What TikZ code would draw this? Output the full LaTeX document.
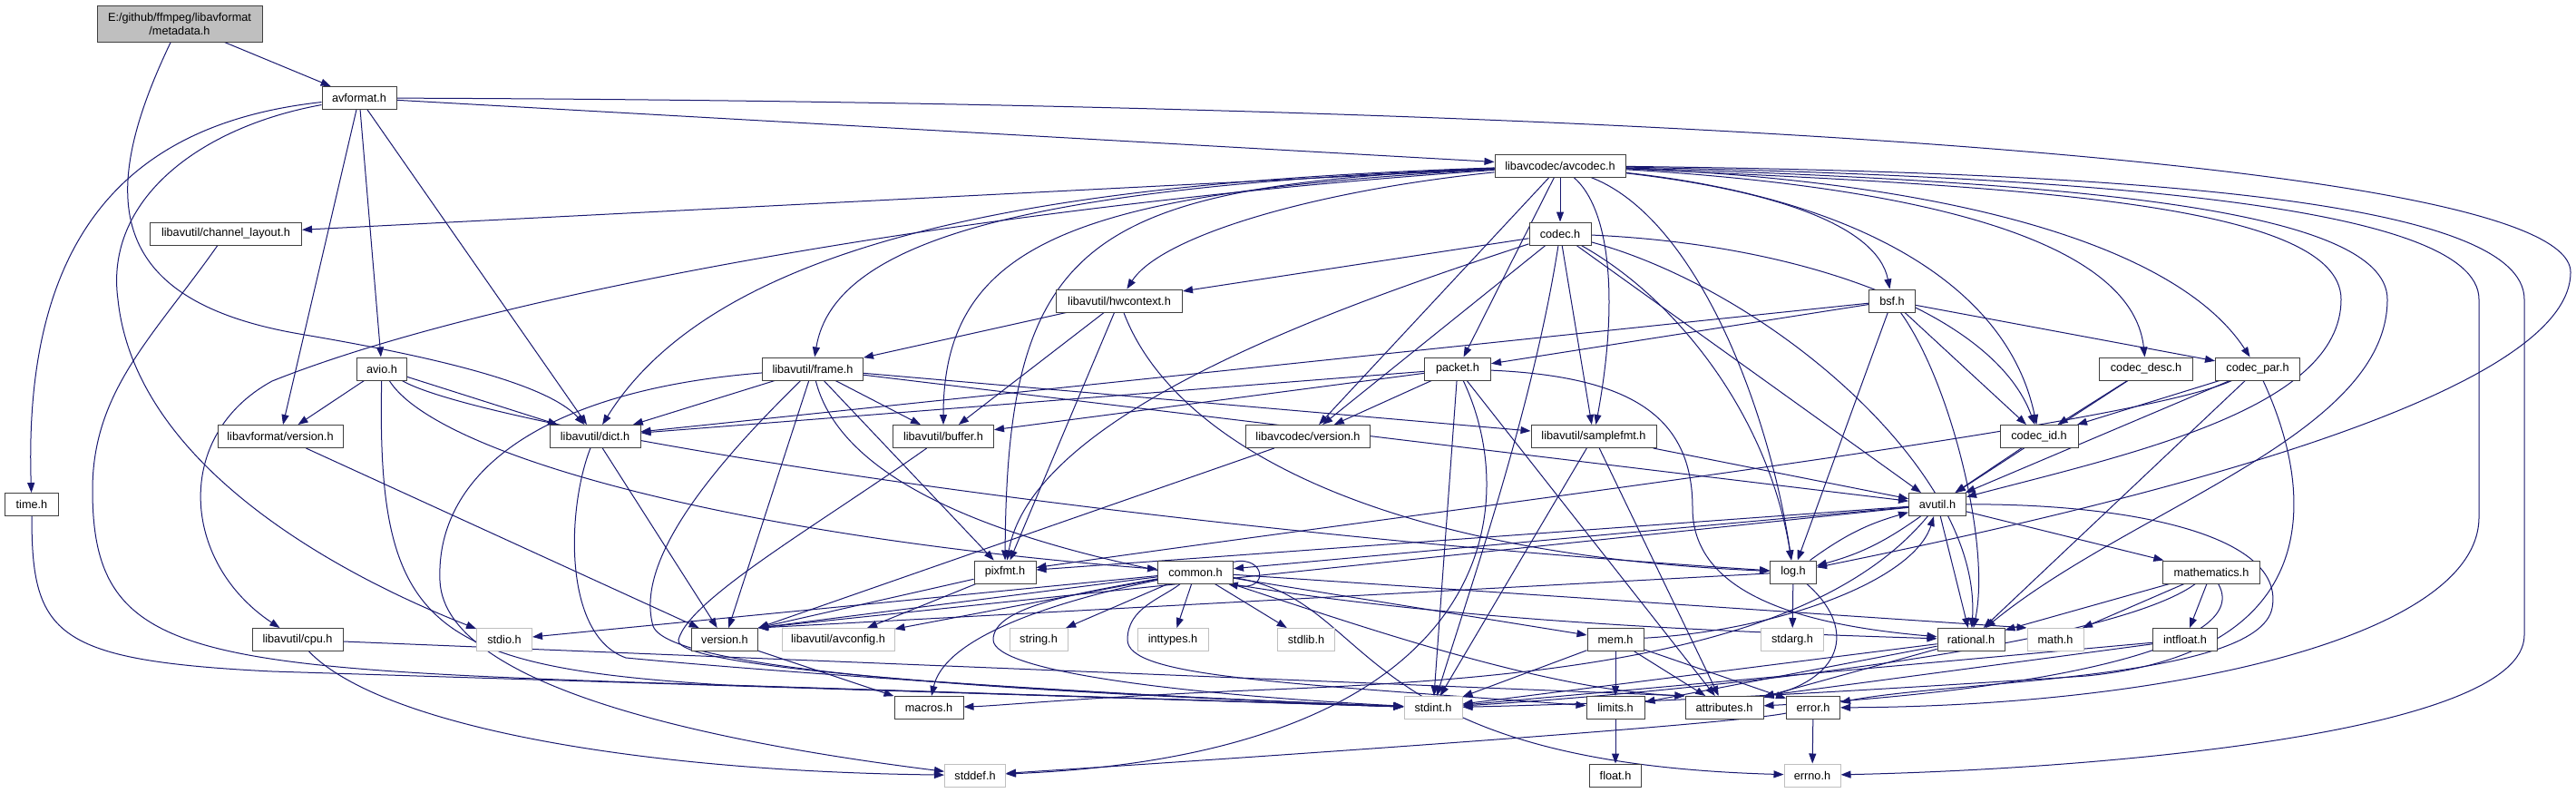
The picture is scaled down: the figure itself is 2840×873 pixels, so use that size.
\documentclass[tikz,border=0pt]{standalone}
\usepackage{fontspec}
\setmainfont{Liberation Sans}
\usetikzlibrary{arrows.meta, backgrounds}
\definecolor{dxedge}{HTML}{191970}
\definecolor{dxgray}{HTML}{BFBFBF}
\definecolor{dxframe}{HTML}{404040}

\begin{document}
\begin{tikzpicture}[x=1pt, y=-1pt,
    docbox/.style={rectangle, draw=dxframe, fill=white, line width=1pt,
                   minimum height=25pt, minimum width=#1, inner sep=1pt,
                   font=\fontsize{12.7}{15}\selectfont},
    docbox/.default=60pt,
    sysbox/.style={docbox=#1, draw=dxgray},
    sysbox/.default=60pt,
    dep/.style={draw=dxedge, line width=1pt, -{Triangle[length=11pt, width=8pt]}}
  ]
    \useasboundingbox (0,0) rectangle (2840,873);

    \node[docbox=182pt, minimum height=40pt, fill=dxgray, align=center] (metadata) at (198,26) {E:/github/ffmpeg/libavformat\\/metadata.h};
    \node[docbox=82pt] (avformat) at (396,108) {avformat.h};
    \node[docbox=144pt] (avcodec) at (1720,182.5) {libavcodec/avcodec.h};
    \node[docbox=167pt] (chlayout) at (249,257.5) {libavutil/channel\_layout.h};
    \node[docbox=68pt] (codec) at (1720,257.5) {codec.h};
    \node[docbox=139pt] (hwctx) at (1234,331.5) {libavutil/hwcontext.h};
    \node[docbox=51pt] (bsf) at (2086,331.5) {bsf.h};
    \node[docbox=55pt] (avio) at (421,406.5) {avio.h};
    \node[docbox=111pt] (frame) at (896,406.5) {libavutil/frame.h};
    \node[docbox=73pt] (packet) at (1607,406.5) {packet.h};
    \node[docbox=103pt] (codecdesc) at (2366,406.5) {codec\_desc.h};
    \node[docbox=93pt] (codecpar) at (2489,406.5) {codec\_par.h};
    \node[docbox=138pt] (lavfver) at (309,481) {libavformat/version.h};
    \node[docbox=100pt] (dict) at (656,481) {libavutil/dict.h};
    \node[docbox=111pt] (buffer) at (1040,481) {libavutil/buffer.h};
    \node[docbox=137pt] (lavcver) at (1442,481) {libavcodec/version.h};
    \node[docbox=138pt] (smpfmt) at (1757,481) {libavutil/samplefmt.h};
    \node[docbox=86pt] (codecid) at (2248,481) {codec\_id.h};
    \node[docbox=59pt] (timeh) at (35,556) {time.h};
    \node[docbox=63pt] (avutil) at (2136,556) {avutil.h};
    \node[docbox=68pt] (pixfmt) at (1108,630.5) {pixfmt.h};
    \node[docbox=83pt] (common) at (1318,630.5) {common.h};
    \node[docbox=51pt] (logh) at (1977,630.5) {log.h};
    \node[docbox=107pt] (mathem) at (2438,630.5) {mathematics.h};
    \node[docbox=100pt] (cpu) at (328,705) {libavutil/cpu.h};
    \node[sysbox=61pt] (stdio) at (556,705) {stdio.h};
    \node[docbox=73pt] (version) at (799,705) {version.h};
    \node[sysbox=124pt] (avconfig) at (924,705) {libavutil/avconfig.h};
    \node[sysbox=64pt] (stringh) at (1145,705) {string.h};
    \node[sysbox=78pt] (inttypes) at (1293,705) {inttypes.h};
    \node[sysbox=63pt] (stdlib) at (1440,705) {stdlib.h};
    \node[docbox=62pt] (mem) at (1781,705) {mem.h};
    \node[sysbox=69pt] (stdarg) at (1976,705) {stdarg.h};
    \node[docbox=74pt] (rational) at (2173,705) {rational.h};
    \node[sysbox=62pt] (math) at (2266,705) {math.h};
    \node[docbox=71pt] (intfloat) at (2409,705) {intfloat.h};
    \node[docbox=76pt] (macros) at (1024,780) {macros.h};
    \node[sysbox=64pt] (stdint) at (1580,780) {stdint.h};
    \node[docbox=64pt] (limits) at (1781,780) {limits.h};
    \node[docbox=86pt] (attrib) at (1901,780) {attributes.h};
    \node[docbox=59pt] (error) at (1999,780) {error.h};
    \node[sysbox=67pt] (stddef) at (1075,854.5) {stddef.h};
    \node[docbox=57pt] (floath) at (1781,854.5) {float.h};
    \node[sysbox=62pt] (errno) at (1998,854.5) {errno.h};

    \begin{scope}[on background layer]
    \fill[white] (0,0) rectangle (2840,873);
    % metadata.h, avformat.h, avio.h
    \draw[dep] (metadata) -- (avformat);
    \draw[dep] (metadata) .. controls (110,210) and (110,330) .. (330,368) .. controls (520,400) and (610,430) .. (dict);
    \draw[dep] (avformat) .. controls (150,135) and (25,250) .. (timeh);
    \draw[dep] (avformat) .. controls (220,140) and (115,220) .. (130,330) .. controls (150,520) and (390,640) .. (stdio);
    \draw[dep] (avformat) -- (lavfver);
    \draw[dep] (avformat) -- (avio);
    \draw[dep] (avformat) -- (dict);
    \draw[dep] (avformat) -- (avcodec);
    \draw[dep] (avformat) .. controls (1600,112) and (2834,165) .. (2834,300) .. controls (2834,430) and (2400,545) .. (logh);
    \draw[dep] (chlayout) .. controls (170,370) and (102,430) .. (102,540) .. controls (102,720) and (200,735) .. (700,752) -- (stdint);
    \draw[dep] (timeh) .. controls (35,700) and (60,728) .. (300,740) -- (stdint);
    \draw[dep] (avio) -- (lavfver);
    \draw[dep] (avio) -- (dict);
    \draw[dep] (avio) .. controls (415,690) and (470,735) .. (800,755) -- (stdint);
    \draw[dep] (avio) .. controls (480,500) and (800,590) .. (common);
    \draw[dep] (avio) .. controls (530,470) and (1200,580) .. (logh);
    \draw[dep] (lavfver) -- (version);

    % libavcodec/avcodec.h
    \draw[dep] (avcodec) -- (chlayout);
    \draw[dep] (avcodec) .. controls (1100,225) and (550,320) .. (300,420) .. controls (190,480) and (200,620) .. (cpu);
    \draw[dep] (avcodec) .. controls (1200,200) and (800,250) .. (dict);
    \draw[dep] (avcodec) .. controls (1150,205) and (920,260) .. (frame);
    \draw[dep] (avcodec) .. controls (1200,212) and (1040,260) .. (buffer);
    \draw[dep] (avcodec) .. controls (1200,205) and (1110,260) .. (pixfmt);
    \draw[dep] (avcodec) .. controls (1450,210) and (1280,260) .. (hwctx);
    \draw[dep] (avcodec) -- (codec);
    \draw[dep] (avcodec) -- (packet);
    \draw[dep] (avcodec) -- (lavcver);
    \draw[dep] (avcodec) .. controls (1775,230) and (1785,330) .. (smpfmt);
    \draw[dep] (avcodec) .. controls (1870,240) and (1950,450) .. (logh);
    \draw[dep] (avcodec) .. controls (1960,210) and (2070,250) .. (bsf);
    \draw[dep] (avcodec) .. controls (2020,215) and (2210,300) .. (codecid);
    \draw[dep] (avcodec) .. controls (2100,205) and (2350,260) .. (codecdesc);
    \draw[dep] (avcodec) .. controls (2150,200) and (2400,270) .. (codecpar);
    \draw[dep] (avcodec) .. controls (2200,205) and (2581,220) .. (2581,330) .. controls (2581,450) and (2350,500) .. (avutil);
    \draw[dep] (avcodec) .. controls (2250,200) and (2632,225) .. (2632,330) .. controls (2632,480) and (2350,560) .. (rational);
    \draw[dep] (avcodec) .. controls (2300,195) and (2733,225) .. (2733,330) -- (2733,570) .. controls (2733,700) and (2400,778) .. (error);
    \draw[dep] (avcodec) .. controls (2350,190) and (2783,220) .. (2783,330) -- (2783,700) .. controls (2783,810) and (2300,848) .. (errno);

    % codec.h, hwcontext.h, bsf.h
    \draw[dep] (codec) -- (hwctx);
    \draw[dep] (codec) -- (lavcver);
    \draw[dep] (codec) -- (smpfmt);
    \draw[dep] (codec) -- (avutil);
    \draw[dep] (codec) .. controls (1500,330) and (1140,450) .. (pixfmt);
    \draw[dep] (codec) .. controls (1690,450) and (1620,650) .. (stdint);
    \draw[dep] (codec) .. controls (1850,330) and (1950,460) .. (logh);
    \draw[dep] (codec) .. controls (1950,320) and (2185,520) .. (rational);
    \draw[dep] (codec) .. controls (2000,270) and (2200,350) .. (codecid);
    \draw[dep] (hwctx) -- (frame);
    \draw[dep] (hwctx) -- (buffer);
    \draw[dep] (hwctx) -- (pixfmt);
    \draw[dep] (hwctx) .. controls (1290,480) and (1500,610) .. (logh);
    \draw[dep] (bsf) -- (dict);
    \draw[dep] (bsf) -- (packet);
    \draw[dep] (bsf) -- (codecid);
    \draw[dep] (bsf) -- (codecpar);
    \draw[dep] (bsf) -- (logh);
    \draw[dep] (bsf) .. controls (2150,420) and (2195,600) .. (rational);

    % frame.h, packet.h, codec_desc.h, codec_par.h
    \draw[dep] (frame) -- (dict);
    \draw[dep] (frame) -- (buffer);
    \draw[dep] (frame) -- (pixfmt);
    \draw[dep] (frame) -- (version);
    \draw[dep] (frame) -- (smpfmt);
    \draw[dep] (frame) -- (avutil);
    \draw[dep] (frame) .. controls (960,660) and (1700,690) .. (rational);
    \draw[dep] (frame) .. controls (780,520) and (700,620) .. (720,690) .. controls (740,745) and (1200,765) .. (stdint);
    \draw[dep] (frame) .. controls (600,430) and (480,520) .. (485,640) .. controls (490,760) and (800,820) .. (stddef);
    \draw[dep] (packet) -- (dict);
    \draw[dep] (packet) -- (buffer);
    \draw[dep] (packet) -- (lavcver);
    \draw[dep] (packet) -- (stdint);
    \draw[dep] (packet) -- (attrib);
    \draw[dep] (packet) .. controls (1800,415) and (1866,460) .. (1866,560) .. controls (1866,660) and (2000,690) .. (rational);
    \draw[dep] (packet) .. controls (1680,560) and (1650,830) .. (stddef);
    \draw[dep] (codecdesc) -- (codecid);
    \draw[dep] (codecdesc) -- (avutil);
    \draw[dep] (codecpar) -- (codecid);
    \draw[dep] (codecpar) -- (avutil);
    \draw[dep] (codecpar) -- (rational);
    \draw[dep] (codecpar) .. controls (2350,470) and (1600,560) .. (pixfmt);
    \draw[dep] (codecpar) .. controls (2560,560) and (2550,720) .. (2300,745) .. controls (2000,765) and (1800,775) .. (stdint);

    % dict.h, buffer.h, version headers, samplefmt.h, codec_id.h
    \draw[dep] (dict) -- (version);
    \draw[dep] (dict) .. controls (625,560) and (620,700) .. (690,725) .. controls (900,745) and (1300,770) .. (stdint);
    \draw[dep] (buffer) .. controls (900,580) and (760,660) .. (748,705) .. controls (740,740) and (1200,765) .. (stdint);
    \draw[dep] (lavcver) -- (version.north east);
    \draw[dep] (smpfmt) -- (stdint);
    \draw[dep] (smpfmt) -- (attrib);
    \draw[dep] (smpfmt) -- (avutil);
    \draw[dep] (codecid) -- (avutil);

    % avutil.h, log.h, pixfmt.h, common.h
    \draw[dep] (avutil) -- (common);
    \draw[dep] (avutil) -- (version.north east);
    \draw[dep] (avutil) -- (pixfmt);
    \draw[dep] (avutil) -- (rational);
    \draw[dep] (avutil) -- (mathem);
    \draw[dep] (avutil) to[bend left=10] (logh);
    \draw[dep] (avutil) .. controls (2000,720) and (1700,748) .. (1400,760) .. controls (1200,768) and (1100,778) .. (macros);
    \draw[dep] (avutil) .. controls (2350,555) and (2520,590) .. (2505,670) .. controls (2490,750) and (2150,750) .. (error);
    \draw[dep] (logh) to[bend left=10] (avutil);
    \draw[dep] (logh) -- (stdarg);
    \draw[dep] (logh) -- (version.north east);
    \draw[dep] (logh) .. controls (2045,690) and (2035,745) .. (attrib);
    \draw[dep] (pixfmt) -- (version.north east);
    \draw[dep] (pixfmt) -- (avconfig);
    \draw[dep] (common) -- (version.north east);
    \draw[dep] (common) -- (avconfig);
    \draw[dep] (common) -- (stringh);
    \draw[dep] (common) -- (inttypes);
    \draw[dep] (common) -- (stdlib);
    \draw[dep] (common) -- (mem);
    \draw[dep] (common) -- (math.north west);
    \draw[dep] (common) -- (stdio);
    \draw[dep] (common) .. controls (1130,670) and (1040,710) .. (macros);
    \draw[dep] (common) .. controls (1180,655) and (1095,670) .. (1095,705) .. controls (1095,740) and (1300,765) .. (stdint);
    \draw[dep] (common) .. controls (1280,660) and (1243,670) .. (1243,705) .. controls (1243,745) and (1400,752) .. (limits);
    \draw[dep] (common) .. controls (1500,690) and (1700,760) .. (attrib.north west);
    \draw[dep] (common) .. controls (1520,660) and (1480,840) .. (errno);
    \draw[dep] (common.15) .. controls (1395,612) and (1400,652) .. (common.-20);

    % lower levels
    \draw[dep] (mathem) -- (rational);
    \draw[dep] (mathem) -- (math);
    \draw[dep] (mathem) -- (intfloat);
    \draw[dep] (mathem) .. controls (2330,710) and (1900,760) .. (stdint);
    \draw[dep] (mathem) .. controls (2490,720) and (2200,765) .. (attrib);
    \draw[dep] (cpu) .. controls (420,800) and (700,850) .. (stddef);
    \draw[dep] (cpu) -- (attrib.north west);
    \draw[dep] (version) -- (macros);
    \draw[dep] (mem) -- (limits);
    \draw[dep] (mem) -- (stdint);
    \draw[dep] (mem) -- (attrib);
    \draw[dep] (mem) -- (error);
    \draw[dep] (mem) .. controls (1960,695) and (2110,640) .. (avutil);
    \draw[dep] (rational) -- (stdint);
    \draw[dep] (rational) -- (limits);
    \draw[dep] (rational) -- (attrib);
    \draw[dep] (intfloat) -- (stdint);
    \draw[dep] (intfloat) -- (attrib.north east);
    \draw[dep] (limits) -- (floath);
    \draw[dep] (error) -- (errno);
    \draw[dep] (error) .. controls (1900,800) and (1300,840) .. (stddef);
    \end{scope}
  \end{tikzpicture}
\end{document}
